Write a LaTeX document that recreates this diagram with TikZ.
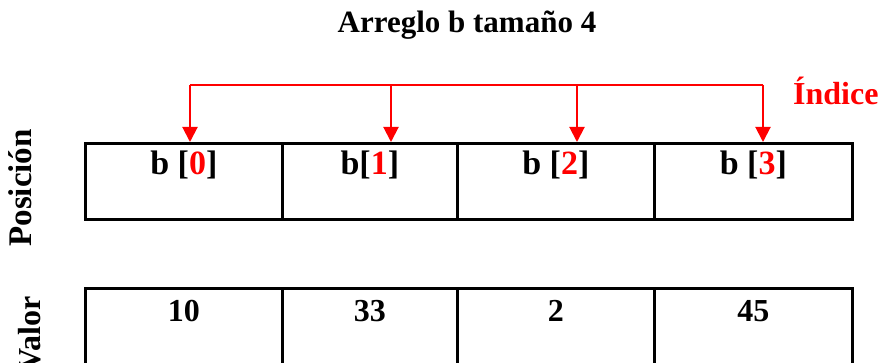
\documentclass[tikz,border=0pt]{standalone}
\usepackage{fontspec}
\setmainfont{Liberation Serif}
\usetikzlibrary{arrows.meta}
\begin{document}
\begin{tikzpicture}[x=1pt,y=-1pt,
  cell/.style={draw=black,line width=2.6pt,minimum height=76pt,inner sep=0pt,anchor=north west},
  lbl/.style={font=\fontsize{34}{40}\selectfont\bfseries,inner sep=0pt},
  num/.style={font=\fontsize{32}{38}\selectfont\bfseries,inner sep=0pt},
  ttl/.style={font=\fontsize{31}{36}\selectfont\bfseries,inner sep=0pt},
  idx/.style={draw=red,line width=2pt},
  idxarrow/.style={idx,-{Triangle[width=15pt,length=15pt]}}]
\useasboundingbox (0,0) rectangle (884,363);
\clip (0,0) rectangle (884,363);
\node[ttl,anchor=base] (title) at (467,33) {Arreglo b tamaño 4};
% top row
\node[cell,minimum width=197pt] (p0) at (84,142) {};
\node[cell,minimum width=175pt] (p1) at (281,142) {};
\node[cell,minimum width=197pt] (p2) at (456,142) {};
\node[cell,minimum width=198pt] (p3) at (653,142) {};
% bottom row
\node[cell,minimum width=197pt,minimum height=110pt] (v0) at (84,287) {};
\node[cell,minimum width=175pt,minimum height=110pt] (v1) at (281,287) {};
\node[cell,minimum width=197pt,minimum height=110pt] (v2) at (456,287) {};
\node[cell,minimum width=198pt,minimum height=110pt] (v3) at (653,287) {};
% texts
\node[lbl,anchor=base,yshift=-33pt] (t0) at (p0.north) {b [\textcolor{red}{0}]};
\node[lbl,anchor=base,yshift=-33pt] (t1) at (p1.north) {b[\textcolor{red}{1}]};
\node[lbl,anchor=base,yshift=-33pt] (t2) at (p2.north) {b [\textcolor{red}{2}]};
\node[lbl,anchor=base,yshift=-33pt] (t3) at (p3.north) {b [\textcolor{red}{3}]};
\node[num,anchor=base,yshift=-35pt] (w0) at (v0.north) {10};
\node[num,anchor=base,yshift=-35pt] (w1) at (v1.north) {33};
\node[num,anchor=base,yshift=-35pt] (w2) at (v2.north) {2};
\node[num,anchor=base,yshift=-35pt] (w3) at (v3.north) {45};
% side labels
\node[lbl,font=\fontsize{33}{38}\selectfont\bfseries,rotate=90,anchor=base east] (pos) at (31,129) {Posición};
\node[num,rotate=90,anchor=base east] (val) at (40,296) {Valor};
% index bracket
\coordinate (a0) at (190,85);
\coordinate (a1) at (391,85);
\coordinate (a2) at (577,85);
\coordinate (a3) at (763,85);
\draw[idx] (a0) -- (a3);
\draw[idxarrow] (a0) -- (a0 |- p0.north);
\draw[idxarrow] (a1) -- (a1 |- p1.north);
\draw[idxarrow] (a2) -- (a2 |- p2.north);
\draw[idxarrow] (a3) -- (a3 |- p3.north);
\node[lbl,font=\fontsize{32}{38}\selectfont\bfseries,text=red,anchor=base west] (ind) at (793,105) {Índice};
\end{tikzpicture}
\end{document}
